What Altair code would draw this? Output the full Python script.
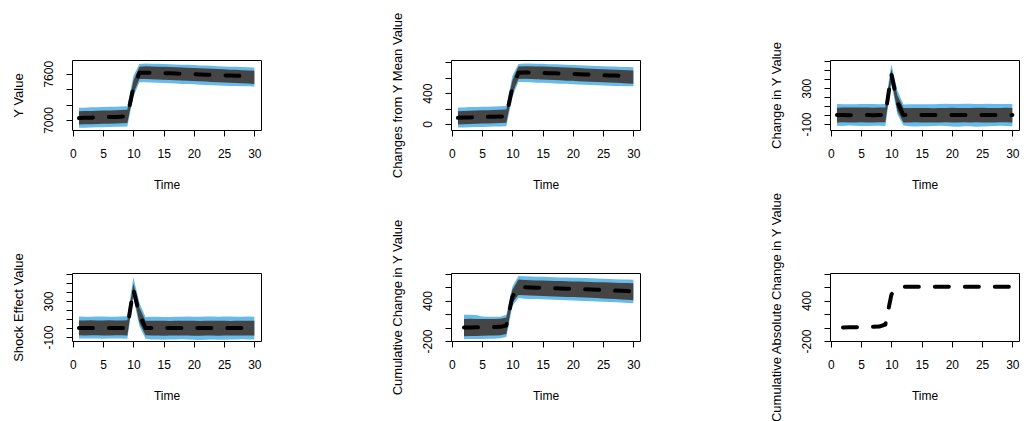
import altair as alt
import pandas as pd

# ---------------- data ----------------
TIME_FULL = list(range(1, 31))
TIME_CUM = list(range(2, 31))
X_TICKS = [0, 5, 10, 15, 20, 25, 30]

# Panel 1: Y Value
y_mean = [7025, 7028, 7030, 7033, 7036, 7038, 7040, 7043, 7045, 7420, 7612, 7614, 7612, 7610, 7607,
          7605, 7603, 7600, 7597, 7594, 7591, 7588, 7585, 7582, 7579, 7576, 7574, 7571, 7568, 7566]
y_glo = [6940, 6943, 6945, 6947, 6950, 6952, 6955, 6957, 6960, 7345, 7530, 7532, 7528, 7525, 7522,
         7518, 7515, 7512, 7508, 7505, 7501, 7498, 7494, 7490, 7487, 7483, 7480, 7476, 7472, 7468]
y_ghi = [7112, 7115, 7118, 7120, 7122, 7124, 7127, 7130, 7133, 7510, 7690, 7696, 7694, 7692, 7690,
         7687, 7684, 7681, 7678, 7674, 7671, 7667, 7664, 7660, 7657, 7653, 7650, 7646, 7643, 7640]
y_blo = [6900, 6898, 6902, 6905, 6905, 6908, 6912, 6912, 6915, 7300, 7490, 7490, 7486, 7482, 7480,
         7476, 7472, 7468, 7466, 7462, 7458, 7455, 7452, 7448, 7445, 7442, 7440, 7438, 7436, 7434]
y_bhi = [7160, 7160, 7165, 7165, 7168, 7170, 7172, 7175, 7178, 7570, 7725, 7732, 7730, 7728, 7727,
         7722, 7720, 7718, 7715, 7712, 7708, 7706, 7702, 7698, 7695, 7692, 7690, 7686, 7684, 7682]

# Panel 2: Changes from Y Mean Value
m_mean = [80, 83, 85, 88, 91, 93, 95, 98, 100, 475, 667, 669, 667, 665, 662,
          660, 658, 655, 652, 649, 646, 643, 640, 637, 634, 631, 629, 626, 623, 621]
m_glo = [-5, -2, 0, 2, 5, 7, 10, 12, 15, 400, 585, 587, 583, 580, 577,
         573, 570, 567, 563, 560, 556, 553, 549, 545, 542, 538, 535, 531, 527, 523]
m_ghi = [167, 170, 173, 175, 177, 179, 182, 185, 188, 565, 745, 751, 749, 747, 745,
         742, 739, 736, 733, 729, 726, 722, 719, 715, 712, 708, 705, 701, 698, 695]
m_blo = [-45, -47, -43, -40, -40, -37, -33, -33, -30, 355, 545, 545, 541, 537, 535,
         531, 527, 523, 521, 517, 513, 510, 507, 503, 500, 497, 495, 493, 491, 489]
m_bhi = [215, 215, 220, 220, 223, 225, 227, 230, 233, 625, 780, 787, 785, 783, 782,
         777, 775, 773, 770, 767, 763, 761, 757, 753, 750, 747, 745, 741, 739, 737]

# Panel 3: Change in Y Value
c_mean = [0, 1, -1, 0, 1, 0, -1, 0, 2, 455, 140, 0, 1, -1, 0,
          0, 1, -1, 0, 0, 1, 0, -1, 0, 0, 1, 0, -1, 0, 0]
c_glo = [-82, -80, -83, -82, -81, -83, -82, -80, -81, 395, 45, -82, -83, -81, -82,
         -84, -83, -82, -80, -82, -83, -81, -82, -80, -82, -83, -82, -81, -80, -82]
c_ghi = [82, 84, 85, 84, 86, 85, 83, 85, 86, 515, 220, 80, 78, 79, 80,
         78, 77, 79, 80, 81, 80, 79, 80, 82, 81, 80, 79, 80, 81, 80]
c_blo = [-120, -122, -118, -120, -123, -121, -119, -120, -122, 345, 5, -118, -125, -128, -126,
         -124, -122, -120, -123, -128, -130, -126, -125, -130, -128, -124, -122, -120, -122, -125]
c_bhi = [125, 122, 120, 122, 124, 125, 123, 121, 125, 568, 275, 118, 120, 122, 121,
         120, 122, 125, 126, 124, 125, 127, 126, 124, 125, 126, 124, 125, 123, 124]

# Panel 4: Shock Effect Value
s_mean = [0, 1, 0, -1, 0, 1, 0, 0, 2, 430, 150, 0, 1, 0, -1,
          0, 0, 1, 0, -1, 0, 0, 1, 0, 0, -1, 0, 1, 0, 0]
s_glo = [-80, -82, -81, -80, -82, -83, -81, -80, -82, 370, 60, -80, -84, -83, -85,
         -84, -83, -82, -84, -85, -86, -84, -83, -85, -84, -83, -82, -84, -83, -82]
s_ghi = [84, 85, 86, 85, 84, 86, 85, 84, 86, 495, 225, 82, 80, 80, 81,
         79, 80, 82, 81, 80, 79, 80, 82, 81, 80, 79, 80, 81, 80, 82]
s_blo = [-115, -117, -116, -115, -118, -117, -115, -116, -118, 330, 20, -120, -126, -128, -130,
         -128, -126, -125, -127, -130, -132, -130, -128, -130, -129, -127, -126, -125, -127, -128]
s_bhi = [128, 126, 125, 127, 128, 126, 125, 127, 130, 565, 280, 122, 124, 125, 123,
         122, 124, 126, 127, 125, 126, 128, 127, 126, 128, 127, 126, 125, 127, 126]

# Panel 5: Cumulative Change in Y Value (t = 2..30)
k_mean = [0, 2, 3, 5, 6, 8, 10, 30, 460, 600, 598, 595, 592, 589, 586,
          583, 580, 577, 574, 571, 568, 565, 561, 557, 553, 549, 545, 541, 537]
k_glo = [-128, -125, -124, -122, -120, -118, -115, -95, 370, 485, 478, 475, 472, 468, 465,
         462, 458, 455, 452, 448, 445, 441, 437, 433, 429, 424, 418, 412, 405]
k_ghi = [128, 130, 128, 126, 127, 128, 130, 150, 560, 715, 705, 702, 700, 698, 695,
         692, 690, 688, 685, 682, 680, 677, 674, 671, 668, 665, 662, 660, 658]
k_blo = [-175, -172, -170, -170, -168, -165, -160, -140, 320, 440, 428, 425, 422, 420, 416,
         412, 408, 405, 402, 398, 395, 390, 386, 382, 378, 374, 370, 365, 360]
k_bhi = [190, 190, 188, 165, 162, 160, 162, 190, 610, 765, 760, 758, 755, 754, 752,
         748, 745, 742, 740, 738, 735, 732, 728, 725, 722, 718, 715, 712, 710]

# Panel 6: Cumulative Absolute Change in Y Value (t = 2..30)
a_mean = [0, 3, 5, 8, 10, 12, 15, 45, 490, 595, 605, 605, 605, 605, 605,
          605, 605, 605, 605, 605, 605, 605, 605, 605, 605, 605, 605, 605, 605]

# y-axis ticks and which of them carry a label
P1_TICKS, P1_SHOWN, P1_DOM = [7000, 7200, 7400, 7600], [7000, 7600], [6870, 7778]
P2_TICKS, P2_SHOWN, P2_DOM = [0, 200, 400, 600, 800], [0, 400], [-78, 831]
P3_TICKS, P3_SHOWN, P3_DOM = [-100, 0, 100, 200, 300, 400, 500, 600], [-100, 300], [-167, 616]
P4_TICKS, P4_SHOWN, P4_DOM = [-100, 0, 100, 200, 300, 400, 500, 600], [-100, 300], [-144, 611]
P5_TICKS, P5_SHOWN, P5_DOM = [-200, 0, 200, 400, 600, 800], [-200, 400], [-200, 810]
P6_TICKS, P6_SHOWN, P6_DOM = [-200, 0, 200, 400, 600, 800], [-200, 400], [-200, 810]

X_DOMAIN = [-0.15, 31.1]

# ---------------- style ----------------
BLUE = "#66BBEA"
GRAY = "#454545"
FONT = "Liberation Sans"
W = 189


def x_enc():
    return alt.X("t:Q",
                 scale=alt.Scale(domain=X_DOMAIN, nice=False, zero=False),
                 axis=alt.Axis(values=X_TICKS, title="Time", labelAngle=0, labelPadding=12,
                               titlePadding=20, labelFlush=False, labelOverlap=False,
                               labelExpr="'' + datum.value"))


def y_axis(title, ticks, shown):
    return alt.Axis(values=ticks, title=title,
                    labelExpr=f"indexof({shown}, datum.value) >= 0 ? '' + datum.value : ''",
                    labelAngle=270, labelAlign="center", labelBaseline="alphabetic",
                    labelPadding=14, titlePadding=20, titleBaseline="alphabetic",
                    labelOverlap=False, labelFlush=False)


def panel(t, mean, bands, ydom, yticks, yshown, ytitle, h):
    data = {"t": t, "mean": mean}
    if bands is not None:
        glo, ghi, blo, bhi = bands
        data.update({"glo": glo, "ghi": ghi, "blo": blo, "bhi": bhi})
    df = pd.DataFrame(data)
    ys = alt.Scale(domain=ydom, nice=False, zero=False)
    ax = y_axis(ytitle, yticks, yshown)
    base = alt.Chart(df)
    layers = []
    if bands is not None:
        layers.append(base.mark_area(color=BLUE, opacity=1, clip=True).encode(
            x=x_enc(), y=alt.Y("blo:Q", scale=ys, axis=ax), y2="bhi:Q"))
        layers.append(base.mark_area(color=GRAY, opacity=1, clip=True).encode(
            x=x_enc(), y=alt.Y("glo:Q", scale=ys, axis=ax), y2="ghi:Q"))
    layers.append(base.mark_line(color="black", strokeWidth=4, strokeDash=[14, 16],
                                 strokeCap="round", strokeJoin="round", clip=True).encode(
        x=x_enc(), y=alt.Y("mean:Q", scale=ys, axis=ax)))
    return alt.layer(*layers).properties(width=W, height=h)


p1 = panel(TIME_FULL, y_mean, (y_glo, y_ghi, y_blo, y_bhi), P1_DOM, P1_TICKS, P1_SHOWN, "Y Value", 70)
p2 = panel(TIME_FULL, m_mean, (m_glo, m_ghi, m_blo, m_bhi), P2_DOM, P2_TICKS, P2_SHOWN,
           "Changes from Y Mean Value", 70)
p3 = panel(TIME_FULL, c_mean, (c_glo, c_ghi, c_blo, c_bhi), P3_DOM, P3_TICKS, P3_SHOWN,
           "Change in Y Value", 70)
p4 = panel(TIME_FULL, s_mean, (s_glo, s_ghi, s_blo, s_bhi), P4_DOM, P4_TICKS, P4_SHOWN,
           "Shock Effect Value", 68)
p5 = panel(TIME_CUM, k_mean, (k_glo, k_ghi, k_blo, k_bhi), P5_DOM, P5_TICKS, P5_SHOWN,
           "Cumulative Change in Y Value", 68)
p6 = panel(TIME_CUM, a_mean, None, P6_DOM, P6_TICKS, P6_SHOWN,
           "Cumulative Absolute Change in Y Value", 68)

row1 = alt.hconcat(p1, p2, p3, spacing=190, bounds="flush")
row2 = alt.hconcat(p4, p5, p6, spacing=190, bounds="flush")

chart = alt.vconcat(row1, row2, spacing=213, bounds="flush").properties(
    padding={"left": 3, "top": 3, "right": 0, "bottom": 0},
    background="white",
).configure(font=FONT).configure_axis(
    labelFont=FONT, titleFont=FONT, labelFontSize=12, titleFontSize=12,
    labelColor="black", titleColor="black", tickColor="black", tickSize=6, tickWidth=1,
    domain=False, grid=False, titleFontWeight="normal",
).configure_axisY(titleFontSize=13).configure_view(stroke="black", strokeWidth=1)

chart.save("out.html", embed_options={"renderer": "svg", "actions": False})
